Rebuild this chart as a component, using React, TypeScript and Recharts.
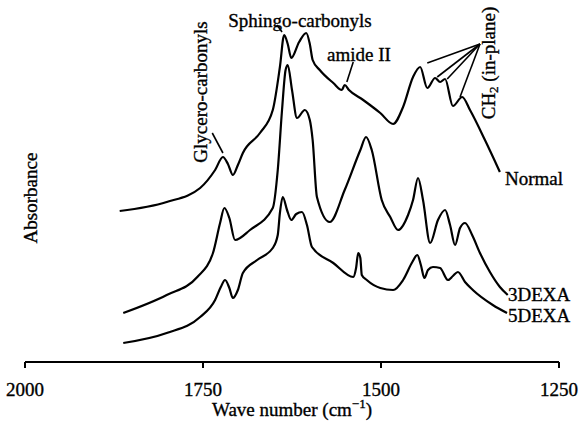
import { LineChart, Line, XAxis, YAxis, ReferenceLine } from "recharts";

// spectra: [wave number cm^-1, absorbance a.u.]
const normal: [number, number][] = [
  [1867, 151], [1801, 160], [1754, 174], [1733, 192], [1722, 205], [1715, 198],
  [1708, 187], [1701, 197], [1694, 209], [1670, 229], [1652, 252], [1642, 295],
  [1636, 327], [1631, 318], [1626, 304], [1615, 320], [1605, 329], [1600, 318],
  [1596, 302], [1586, 292], [1567, 279], [1555, 272], [1551, 277], [1545, 272],
  [1525, 262], [1501, 249], [1483, 238], [1469, 255], [1455, 285], [1445, 295],
  [1435, 274], [1424, 284], [1417, 280], [1410, 283], [1399, 256], [1386, 265],
  [1375, 252], [1354, 222], [1333, 190],
];

const dexa3: [number, number][] = [
  [1862, 49], [1801, 67], [1758, 85], [1736, 109], [1726, 139], [1720, 154],
  [1713, 144], [1705, 122], [1684, 132], [1652, 154], [1645, 192], [1639, 252],
  [1634, 292], [1631, 297], [1625, 272], [1618, 244], [1607, 252], [1600, 242],
  [1596, 222], [1590, 165], [1572, 140], [1551, 172], [1529, 212], [1521, 225],
  [1513, 212], [1499, 162], [1487, 145], [1476, 132], [1462, 147], [1455, 162],
  [1448, 184], [1441, 162], [1431, 119], [1420, 142], [1410, 152], [1403, 137],
  [1396, 117], [1389, 134], [1382, 139], [1372, 127], [1361, 109], [1347, 90],
  [1333, 75], [1322, 67],
];

const dexa5: [number, number][] = [
  [1862, 19], [1801, 29], [1754, 45], [1733, 62], [1725, 75], [1719, 82],
  [1713, 74], [1708, 64], [1701, 72], [1694, 89], [1674, 102], [1652, 114],
  [1645, 127], [1642, 149], [1638, 165], [1632, 152], [1626, 142], [1619, 148],
  [1611, 150], [1604, 137], [1597, 115], [1567, 99], [1539, 85], [1535, 94],
  [1532, 109], [1529, 104], [1527, 87], [1520, 82], [1501, 74], [1483, 72],
  [1469, 82], [1456, 100], [1449, 107], [1444, 97], [1439, 84], [1434, 92],
  [1427, 95], [1417, 94], [1406, 82], [1399, 86], [1392, 90], [1382, 80],
  [1371, 72], [1343, 57], [1323, 49],
];

const ticks = [2000, 1750, 1500, 1250];

// leader lines for the band labels, in data coordinates
const leaders: [number, number, number, number][] = [
  [1737, 229, 1722, 209],
  [1646, 337, 1639, 330],
  [1539, 300, 1548, 280],
  [1361, 318, 1435, 299],
  [1361, 318, 1421, 285],
  [1361, 318, 1407, 283],
  [1361, 318, 1389, 265],
];

const toRows = (s: [number, number][]) => s.map(([w, a]) => ({ w, a }));

const FONT = "'Liberation Serif', 'Times New Roman', serif";

export default function App() {
  const series = [
    { name: "Normal", data: toRows(normal) },
    { name: "3DEXA", data: toRows(dexa3) },
    { name: "5DEXA", data: toRows(dexa5) },
  ];
  const txt = { fontFamily: FONT, fontSize: 19, fill: "#000", stroke: "#000", strokeWidth: 0.35 };

  return (
    <div style={{ position: "absolute", left: 0, top: 0, width: 584, height: 424, background: "#fff" }}>
      <LineChart
        width={584}
        height={424}
        margin={{ top: 0, right: 25, bottom: 32, left: 25 }}
      >
        <XAxis
          type="number"
          dataKey="w"
          domain={[1250, 2000]}
          reversed
          ticks={ticks}
          allowDataOverflow
          height={30}
          tickSize={6}
          tickMargin={15}
          axisLine={{ stroke: "#000", strokeWidth: 2 }}
          tickLine={{ stroke: "#000", strokeWidth: 2 }}
          tick={{ fill: "#000", stroke: "#000", strokeWidth: 0.35, fontSize: 19, fontFamily: FONT }}
        />
        <YAxis type="number" dataKey="a" domain={[0, 362]} hide />
        {leaders.map(([x1, y1, x2, y2], i) => (
          <ReferenceLine
            key={i}
            segment={[{ x: x1, y: y1 }, { x: x2, y: y2 }]}
            stroke="#000"
            strokeWidth={1.6}
            ifOverflow="visible"
          />
        ))}
        {series.map((s) => (
          <Line
            key={s.name}
            data={s.data}
            dataKey="a"
            type="monotone"
            stroke="#000"
            strokeWidth={2.2}
            dot={false}
            isAnimationActive={false}
          />
        ))}
      </LineChart>
      <svg
        width={584}
        height={424}
        style={{ position: "absolute", left: 0, top: 0, pointerEvents: "none" }}
      >
        <text {...txt} x={300} y={20} textAnchor="middle" dominantBaseline="central">
          Sphingo-carbonyls
        </text>
        <text {...txt} x={359} y={54} textAnchor="middle" dominantBaseline="central">
          amide II
        </text>
        <text {...txt} transform="translate(200,92) rotate(-90)" textAnchor="middle" dominantBaseline="central">
          Glycero-carbonyls
        </text>
        <text {...txt} transform="translate(488,63) rotate(-90)" textAnchor="middle" dominantBaseline="central">
          CH<tspan fontSize={13} dy={5}>2</tspan>
          <tspan dy={-5}> (in-plane)</tspan>
        </text>
        <text {...txt} transform="translate(30,198) rotate(-90)" textAnchor="middle" dominantBaseline="central">
          Absorbance
        </text>
        <text {...txt} x={505} y={178} dominantBaseline="central">Normal</text>
        <text {...txt} x={508} y={294} dominantBaseline="central">3DEXA</text>
        <text {...txt} x={508} y={315} dominantBaseline="central">5DEXA</text>
        <text {...txt} x={292} y={416} textAnchor="middle">
          Wave number (cm<tspan fontSize={13} dy={-8}>−1</tspan>
          <tspan dy={8}>)</tspan>
        </text>
      </svg>
    </div>
  );
}
